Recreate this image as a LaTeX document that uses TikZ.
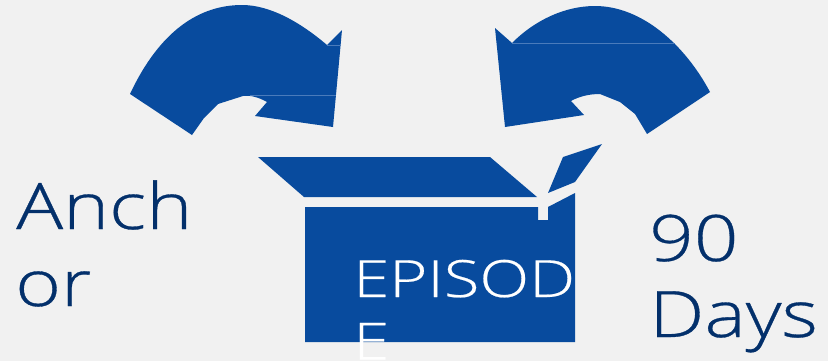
\documentclass[tikz,border=0pt]{standalone}
\usepackage{fontspec}
\newfontfamily\widefont[FakeStretch=1.22,FakeBold=0.5]{Open Sans Light}
\newfontfamily\boxfont[FakeStretch=1.27,FakeBold=0.4]{Open Sans Light}
\definecolor{boxblue}{HTML}{084B9E}
\definecolor{seamblue}{HTML}{4A7BBB}
\definecolor{textblue}{HTML}{03306B}
\definecolor{paper}{HTML}{F1F1F1}
\tikzset{
  shapefill/.style={fill=boxblue,draw=none},
  seam/.style={draw=seamblue,line width=0.5pt},
  bigtext/.style={inner sep=0pt,anchor=base west,text=textblue,font=\widefont\fontsize{48}{48}\selectfont},
  boxtext/.style={inner sep=0pt,anchor=base west,text=white,font=\boxfont\fontsize{38.5}{38.5}\selectfont}
}
\begin{document}
\begin{tikzpicture}[x=0.75pt,y=-0.75pt]
\path[use as bounding box,fill=paper] (0,0) rectangle (828,361);
\fill[shapefill] (130,94) .. controls (160,30) and (200,5) .. (242,5) .. controls (270,5) and (300,22) .. (327,45) -- (342,30) -- (333,127) -- (255,116) -- (267,102) .. controls (258,97) and (250,95) .. (243,96) -- (218,104) -- (204,118) -- (192,135) -- cycle;
\fill[shapefill] (710,92) .. controls (685,45) and (642,6) .. (595,6) .. controls (565,6) and (535,20) .. (512,43) -- (495,28) -- (505,127) -- (584,115) -- (571,101) .. controls (580,96) and (590,94) .. (600,94) -- (620,102) -- (635,114) -- (647,134) -- cycle;
\fill[shapefill] (258,157) -- (490,157) -- (537,197) -- (304,197) -- cycle;
\fill[shapefill] (563,157) -- (602,144) -- (575,182) -- (548,193) -- cycle;
\fill[shapefill] (305,207) -- (538,207) -- (538,220) -- (548,220) -- (548,207) -- (575,193) -- (575,342) -- (305,342) -- cycle;
\coordinate (sa) at (327,45); \coordinate (sb) at (341,45);
\coordinate (sc) at (250,95.5); \coordinate (sd) at (336,95.5);
\coordinate (se) at (512,43.5); \coordinate (sf) at (675,43.5);
\draw[seam] (sa) -- (sb);
\draw[seam] (sc) -- (sd);
\draw[seam] (se) -- (sf);
\node[boxtext] (ep1) at (353,297) {EPISOD};
\node[boxtext] (ep2) at (353,359.5) {E};
\node[bigtext] (a1) at (16,229) {Anch};
\node[bigtext] (a2) at (15,306) {or};
\node[bigtext] (d1) at (649,261) {90};
\node[bigtext] (d2) at (649,337) {Days};
\end{tikzpicture}
\end{document}
